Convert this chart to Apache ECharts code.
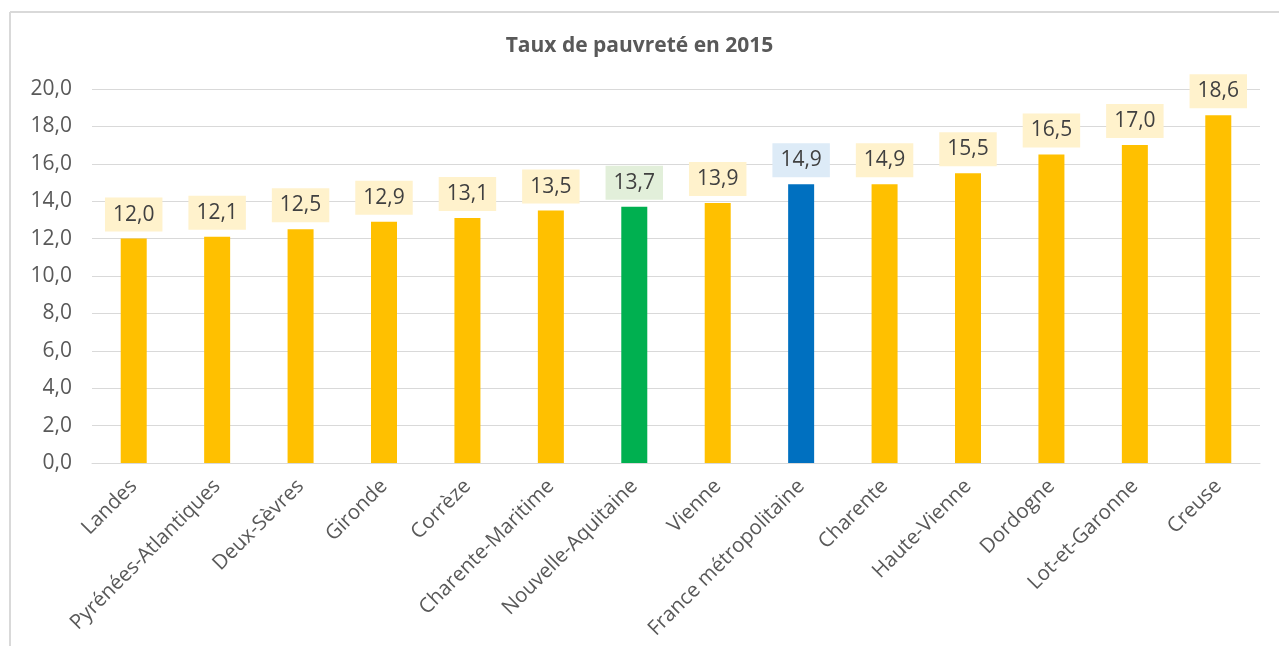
<!DOCTYPE html>
<html>
<head>
<meta charset="utf-8">
<script src="https://cdn.jsdelivr.net/npm/echarts@6/dist/echarts.min.js"></script>
<style>
  html, body { margin: 0; padding: 0; background: #fff; }
  #grafiek { width: 1279px; height: 646px; }
</style>
</head>
<body>
<div id="grafiek"></div>
<script>
// categories and values (taux de pauvreté 2015, %)
const departements = ['Landes', 'Pyrénées-Atlantiques', 'Deux-Sèvres', 'Gironde', 'Corrèze',
    'Charente-Maritime', 'Nouvelle-Aquitaine', 'Vienne', 'France métropolitaine', 'Charente',
    'Haute-Vienne', 'Dordogne', 'Lot-et-Garonne', 'Creuse'];
const taux = [12.0, 12.1, 12.5, 12.9, 13.1, 13.5, 13.7, 13.9, 14.9, 14.9, 15.5, 16.5, 17.0, 18.6];
const regio = 'Nouvelle-Aquitaine';
const land = 'France métropolitaine';

function kleur(naam) {
    if (naam === regio) return ['#00B050', '#E2EFDA'];
    if (naam === land) return ['#0070C0', '#DDEBF7'];
    return ['#FFC000', '#FFF2CC'];
}

function komma(v) {
    return v.toFixed(1).replace('.', ',');
}

let grafiek = echarts.init(document.getElementById('grafiek'));
let option = {
    backgroundColor: '#ffffff',
    textStyle: { fontFamily: 'Open Sans' },
    title: {
        text: 'Taux de pauvreté en 2015',
        left: 'center',
        top: 31,
        textStyle: { fontSize: 21, fontWeight: 'bold', color: '#595959', fontFamily: 'Open Sans' }
    },
    graphic: [
        { type: 'line', shape: { x1: 10, y1: 12, x2: 1279, y2: 12 }, style: { stroke: '#D9D9D9', lineWidth: 2 } },
        { type: 'line', shape: { x1: 10, y1: 12, x2: 10, y2: 646 }, style: { stroke: '#D9D9D9', lineWidth: 2 } }
    ],
    grid: { left: 92, right: 19, top: 89, bottom: 183 },
    xAxis: {
        type: 'category',
        data: departements,
        axisLine: { lineStyle: { color: '#D9D9D9' } },
        axisTick: { show: false },
        axisLabel: { rotate: 45, margin: 20, color: '#595959', fontSize: 20.5, interval: 0 }
    },
    yAxis: {
        type: 'value',
        min: 0,
        max: 20,
        interval: 2,
        axisLine: { show: false },
        axisTick: { show: false },
        splitLine: { lineStyle: { color: '#D9D9D9' } },
        axisLabel: { color: '#595959', fontSize: 21, margin: 20, formatter: v => komma(v) }
    },
    series: [
        {
            type: 'bar',
            barWidth: 26,
            data: taux.map((v, i) => ({
                value: v,
                itemStyle: { color: kleur(departements[i])[0] },
                label: { backgroundColor: kleur(departements[i])[1] }
            })),
            label: {
                show: true,
                position: 'top',
                distance: 7,
                color: '#404040',
                fontSize: 21,
                padding: [6, 8],
                lineHeight: 22,
                formatter: p => komma(p.value)
            }
        }
    ]
};
grafiek.setOption(option);
</script>
</body>
</html>
